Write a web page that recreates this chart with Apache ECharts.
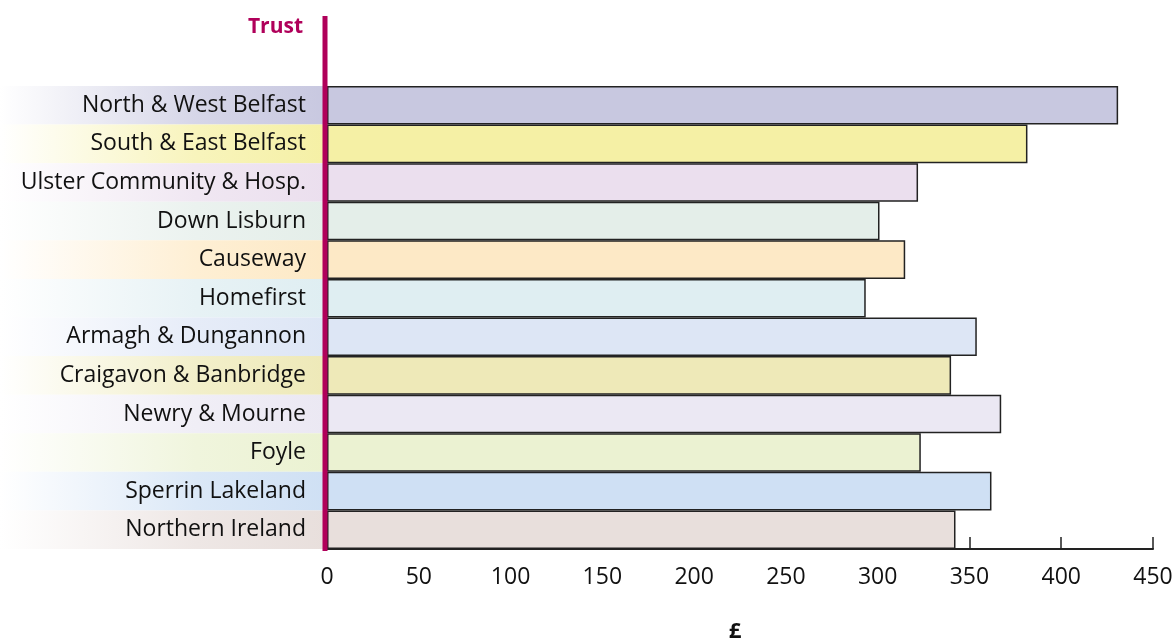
<!DOCTYPE html>
<html>
<head>
<meta charset="utf-8">
<script src="https://cdn.jsdelivr.net/npm/echarts@6/dist/echarts.min.js"></script>
<style>
html,body{margin:0;padding:0;background:#fff;}
#c{width:1176px;height:639px;}
</style>
</head>
<body>
<div id="c"></div>
<script>
var categories = ["North & West Belfast","South & East Belfast","Ulster Community & Hosp.","Down Lisburn","Causeway","Homefirst","Armagh & Dungannon","Craigavon & Banbridge","Newry & Mourne","Foyle","Sperrin Lakeland","Northern Ireland"];
var values = [431, 381.6, 322, 301, 315, 293.5, 354, 340, 367.3, 323.5, 362, 342.4];
var colors = ["#c8c8e0","#f5f0a5","#ebdfee","#e4eee9","#fde9c6","#dfeef2","#dde6f5","#eee9b8","#ebe8f3","#ebf2d2","#cfe0f4","#e8dfdc"];
var xTicks = [0,50,100,150,200,250,300,350,400,450];

var FONT = "Open Sans";
var chart = echarts.init(document.getElementById('c'));

var barData = values.map(function(v,i){ return {value:v, itemStyle:{color:colors[i]}}; });
var bgData = categories.map(function(c,i){ return [0, i]; });

chart.setOption({
  animation:false,
  grid:{left:327, right:23, top:86, bottom:90, containLabel:false, outerBoundsMode:'none'},
  xAxis:{
    type:'value', min:xTicks[0], max:xTicks[xTicks.length-1], interval:50,
    axisLine:{show:true, lineStyle:{color:'#222', width:2}},
    axisTick:{show:true, inside:true, length:12, lineStyle:{color:'#222', width:1.5}},
    splitLine:{show:false},
    axisLabel:{fontFamily:FONT, fontSize:23, color:'#111', margin:17},
    name:'£', nameLocation:'middle', nameGap:72,
    nameTextStyle:{fontFamily:FONT, fontSize:22, fontWeight:'bold', color:'#111', padding:[0,10,0,0]}
  },
  yAxis:{
    type:'category', data:categories, inverse:true,
    axisLine:{show:false}, axisTick:{show:false}, splitLine:{show:false},
    axisLabel:{fontFamily:FONT, fontSize:23, color:'#111', margin:21}
  },
  series:[
    {
      type:'custom', z:0, silent:true, clip:false,
      data:bgData,
      encode:{x:0, y:1},
      renderItem:function(params, api){
        var idx = api.value(1);
        var p = api.coord([0, idx]);
        var h = api.size([0,1])[1];
        var left = params.coordSys.x;
        return {
          type:'rect',
          shape:{x:0, y:p[1]-h/2, width:left, height:h},
          style:{fill:new echarts.graphic.LinearGradient(0,0,1,0,[
            {offset:0, color:'rgba(255,255,255,1)'},
            {offset:0.6, color:echarts.color.lerp(0.75, ['#ffffff', colors[idx]])},
            {offset:1, color:colors[idx]}
          ])}
        };
      }
    },
    {
      type:'bar', data:barData, barCategoryGap:'0%', z:2,
      itemStyle:{borderColor:'#222', borderWidth:1.5}
    }
  ]
});

var x0 = chart.convertToPixel({xAxisIndex:0}, 0);
chart.setOption({
  graphic:[
    {type:'line', z:100, shape:{x1:x0-2, y1:16, x2:x0-2, y2:551}, style:{stroke:'#b0005a', lineWidth:5}},
    {type:'text', z:100, x:x0-24, y:27, style:{text:'Trust', fill:'#b0005a', font:'bold 21px "Open Sans"', align:'right', verticalAlign:'middle'}}
  ]
});
</script>
</body>
</html>
